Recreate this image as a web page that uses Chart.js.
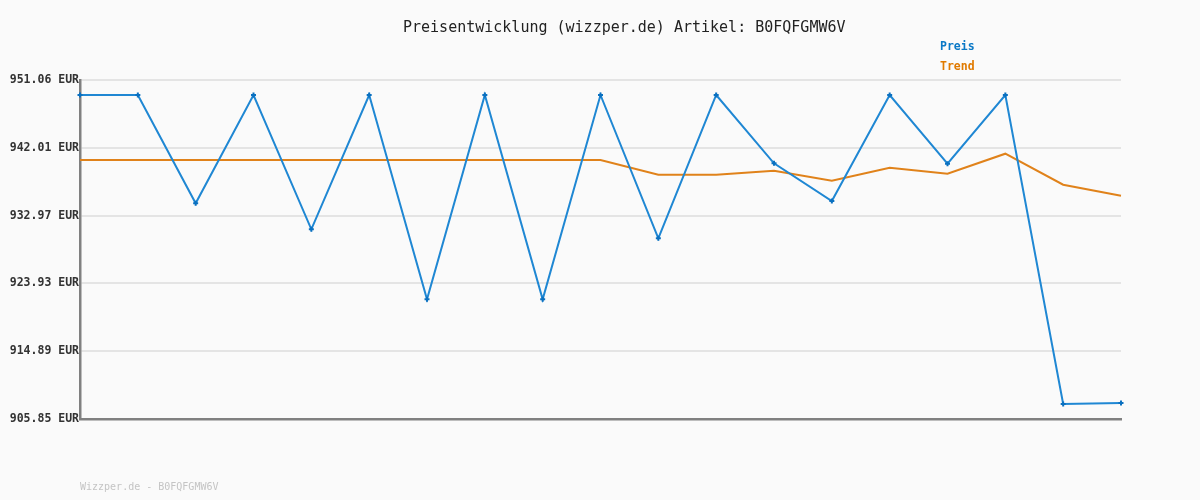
<!DOCTYPE html>
<html>
<head>
<meta charset="utf-8">
<script src="https://cdn.jsdelivr.net/npm/chart.js@4/dist/chart.umd.min.js"></script>
<style>
  html, body { margin: 0; padding: 0; background: #fafafa; }
  #wrap { width: 1200px; height: 500px; }
</style>
</head>
<body>
<div id="wrap"><canvas id="preischart"></canvas></div>
<script>
// data
var labels = ["1","2","3","4","5","6","7","8","9","10","11","12","13","14","15","16","17","18","19"];
var preis = [949.06, 949.06, 934.62, 949.06, 931.15, 949.06, 921.81, 949.06, 921.81, 949.06,
             929.95, 949.06, 939.95, 934.92, 949.06, 939.90, 949.06, 907.85, 907.99];
var trend = [940.39, 940.39, 940.39, 940.39, 940.39, 940.39, 940.39, 940.39, 940.39, 940.39,
             938.43, 938.43, 938.96, 937.63, 939.36, 938.56, 941.23, 937.10, 935.63];
var yTicks = [905.85, 914.89, 923.93, 932.97, 942.01, 951.06];

var titleText = "Preisentwicklung (wizzper.de) Artikel: B0FQFGMW6V";
var footerText = "Wizzper.de - B0FQFGMW6V";

var blue = '#1f87d3';
var orange = '#e0821a';

// draws title, legend and footer text
var textPlugin = {
  id: 'texte',
  afterDraw: function(chart) {
    var c = chart.ctx;
    c.save();
    c.textBaseline = 'middle';
    c.textAlign = 'left';
    c.font = '15px "DejaVu Sans Mono"';
    c.fillStyle = '#222';
    c.fillText(titleText, 403, 28);
    c.font = 'bold 11.5px "DejaVu Sans Mono"';
    c.fillStyle = '#0a78c6';
    c.fillText("Preis", 940, 47);
    c.fillStyle = '#e07a00';
    c.fillText("Trend", 940, 67);
    c.font = '10px "DejaVu Sans Mono"';
    c.fillStyle = '#c4c4c4';
    c.fillText(footerText, 80, 487);
    c.restore();
  }
};

var ctx = document.getElementById("preischart").getContext("2d");
var myChart = new Chart(ctx, {
  type: 'line',
  data: {
    labels: labels,
    datasets: [
      {
        label: "Trend",
        data: trend,
        borderColor: orange,
        borderWidth: 2,
        pointRadius: 0,
        tension: 0,
        order: 2
      },
      {
        label: "Preis",
        data: preis,
        borderColor: blue,
        backgroundColor: '#0a70c0',
        borderWidth: 2,
        pointStyle: 'cross',
        pointRadius: 2.5,
        pointBorderWidth: 2,
        pointBorderColor: '#0a70c0',
        tension: 0,
        order: 1
      }
    ]
  },
  options: {
    responsive: true,
    maintainAspectRatio: false,
    animation: false,
    layout: { padding: { top: 80, right: 79, bottom: 81, left: 0 } },
    plugins: {
      legend: { display: false },
      title: { display: false },
      tooltip: { enabled: false }
    },
    scales: {
      x: {
        offset: false,
        ticks: { display: false },
        grid: { display: false },
        border: { color: '#808080', width: 2.5 },
        afterFit: function(axis) { axis.height = 0; }
      },
      y: {
        min: 905.85,
        max: 951.06,
        afterBuildTicks: function(axis) {
          axis.ticks = yTicks.map(function(v) { return { value: v }; });
        },
        afterFit: function(axis) { axis.width = 80; },
        ticks: {
          padding: 1,
          color: '#333',
          font: { family: 'DejaVu Sans Mono', size: 11.5, weight: 'bold' },
          callback: function(v) { return v.toFixed(2) + " EUR"; }
        },
        grid: { color: '#e4e4e4', lineWidth: 2, drawTicks: false },
        border: { color: '#808080', width: 2.5 }
      }
    }
  },
  plugins: [textPlugin]
});
</script>
</body>
</html>
